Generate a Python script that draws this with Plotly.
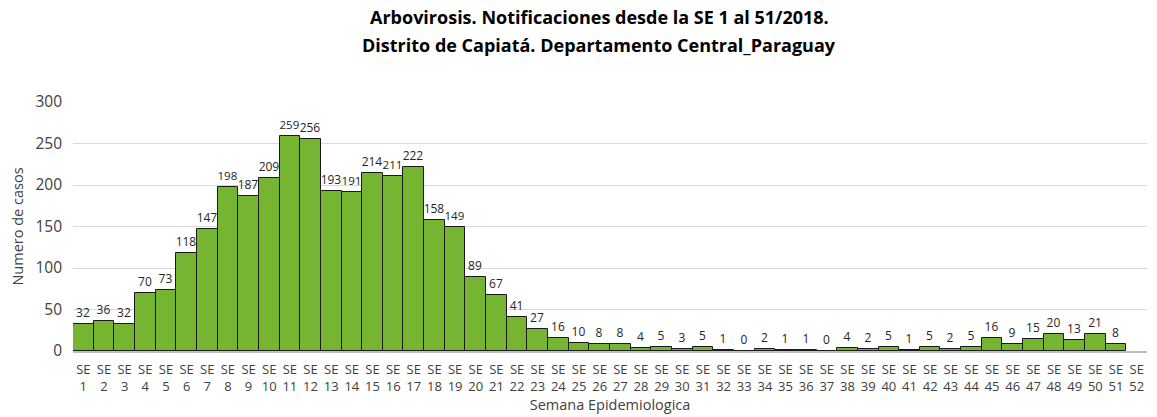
import plotly.graph_objects as go

semanas = [f"SE {i}" for i in range(1, 53)]
casos = [32, 36, 32, 70, 73, 118, 147, 198, 187, 209,
         259, 256, 193, 191, 214, 211, 222, 158, 149, 89,
         67, 41, 27, 16, 10, 8, 8, 4, 5, 3,
         5, 1, 0, 2, 1, 1, 0, 4, 2, 5,
         1, 5, 2, 5, 16, 9, 15, 20, 13, 21,
         8, None]
tick_labels = [s.replace(" ", "<br>") for s in semanas]
etiquetas = ["" if v is None else str(v) for v in casos]

titulo_1 = "Arbovirosis. Notificaciones desde la SE 1 al 51/2018."
titulo_2 = "Distrito de Capiatá. Departamento Central_Paraguay"

fig = go.Figure()

fig.add_trace(go.Bar(
    x=semanas,
    y=casos,
    text=etiquetas,
    textposition="outside",
    cliponaxis=False,
    textfont=dict(size=12, color="#262626", family="Open Sans"),
    marker=dict(color="#76B531", line=dict(color="#1a1a1a", width=1)),
))

fig.update_xaxes(
    tickmode="array",
    tickvals=semanas,
    ticktext=tick_labels,
    tickangle=0,
    automargin=False,
    showline=True,
    linecolor="#BFBFBF",
    linewidth=1.5,
    showgrid=False,
    ticks="",
    ticklabelstandoff=6,
    tickfont=dict(size=13, color="#404040", family="Open Sans"),
    title=dict(text="Semana Epidemiologica", font=dict(size=14.5, color="#404040", family="Open Sans"), standoff=6),
)

fig.update_yaxes(
    range=[0, 300],
    dtick=50,
    automargin=False,
    showgrid=True,
    gridcolor="#D9D9D9",
    zeroline=False,
    showline=False,
    ticklabelstandoff=10,
    tickfont=dict(size=15.5, color="#404040", family="Open Sans"),
    title=dict(text="Numero de casos", font=dict(size=14.5, color="#404040", family="Open Sans"), standoff=8),
)

# two title lines, placed separately to get the wider line spacing
for texto, ypos in [(titulo_1, 1.341), (titulo_2, 1.229)]:
    fig.add_annotation(
        text=f"<b>{texto}</b>",
        xref="paper", yref="paper",
        x=0.49, y=ypos, xanchor="center", yanchor="middle",
        showarrow=False,
        font=dict(size=18, color="#000000", family="Open Sans"),
    )

fig.update_layout(
    width=1157,
    height=417,
    margin=dict(l=73, r=10, t=102, b=66),
    bargap=0,
    plot_bgcolor="white",
    paper_bgcolor="white",
    showlegend=False,
)

fig.write_html("out.html", config={"displayModeBar": False},
               post_script="document.body.style.margin='0px';")
